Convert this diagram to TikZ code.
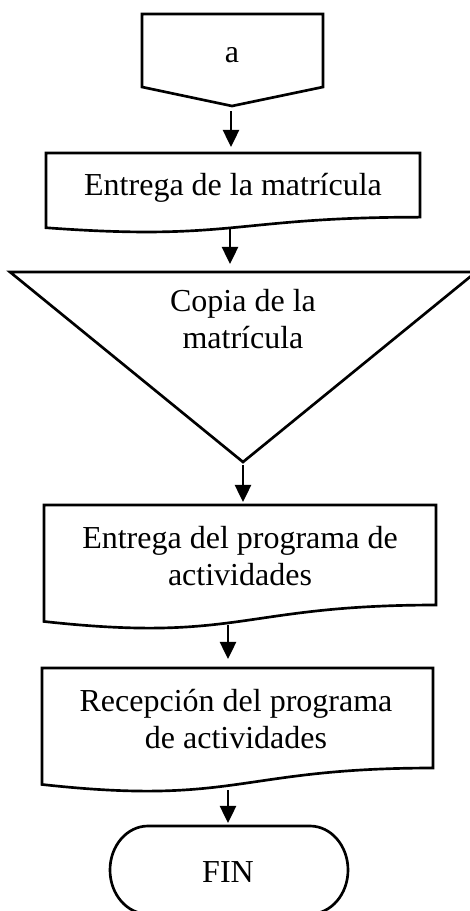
\documentclass[tikz,border=0pt]{standalone}
\usepackage{fontspec}
\setmainfont{Liberation Serif}
\usetikzlibrary{arrows.meta}

\begin{document}
\begin{tikzpicture}[
  x=.375pt,y=-.375pt,
  every node/.style={font=\fontsize{12}{13.7}\selectfont,align=center,inner sep=0pt},
  forma/.style={draw=black,line width=1pt,line join=miter},
  flecha/.style={line width=1pt,-{Triangle[length=6.4pt,width=6pt]}}
]
\useasboundingbox (0,0) rectangle (470,911);
% conector de pagina
\draw[forma] (142,14) -- (323,14) -- (323,87) -- (232,106) -- (142,87) -- cycle;
% documentos
\foreach \xa/\xb/\ya/\h in {46/420/153/80, 44/436/505/124.7, 42/433/668/124.7} {
  \draw[forma] (\xa,\ya) -- (\xb,\ya) -- (\xb,{\ya+0.802*\h})
    .. controls ({(\xa+\xb)/2},{\ya+0.802*\h}) and ({(\xa+\xb)/2},{\ya+1.107*\h})
    .. (\xa,{\ya+0.934*\h}) -- cycle;
}
% archivo
\draw[forma] (10,272) -- (476,272) -- (243,462) -- cycle;
% terminal
\draw[forma] (148,826) -- (310,826) arc[start angle=-90,end angle=90,x radius=38,y radius=44]
  -- (148,914) arc[start angle=90,end angle=270,x radius=38,y radius=44] -- cycle;

\node (a) at (232,55) {a};
\node (entrega) at (233,188) {Entrega de la matrícula};
\node (copia) at (243,319) {Copia de la\\matrícula};
\node (programa) at (240,556) {Entrega del programa de\\actividades};
\node (recepcion) at (236,719) {Recepción del programa\\de actividades};
\node (fin) at (228,872) {FIN};

\coordinate (a-sal) at (231,111);
\coordinate (entrega-ent) at (231,147);
\coordinate (entrega-sal) at (230,229);
\coordinate (copia-ent) at (230,264);
\coordinate (copia-sal) at (243,465);
\coordinate (programa-ent) at (243,502);
\coordinate (programa-sal) at (228,625);
\coordinate (recepcion-ent) at (228,659);
\coordinate (recepcion-sal) at (228,790);
\coordinate (fin-ent) at (228,823);

\draw[flecha] (a-sal) -- (entrega-ent);
\draw[flecha] (entrega-sal) -- (copia-ent);
\draw[flecha] (copia-sal) -- (programa-ent);
\draw[flecha] (programa-sal) -- (recepcion-ent);
\draw[flecha] (recepcion-sal) -- (fin-ent);
\end{tikzpicture}
\end{document}
